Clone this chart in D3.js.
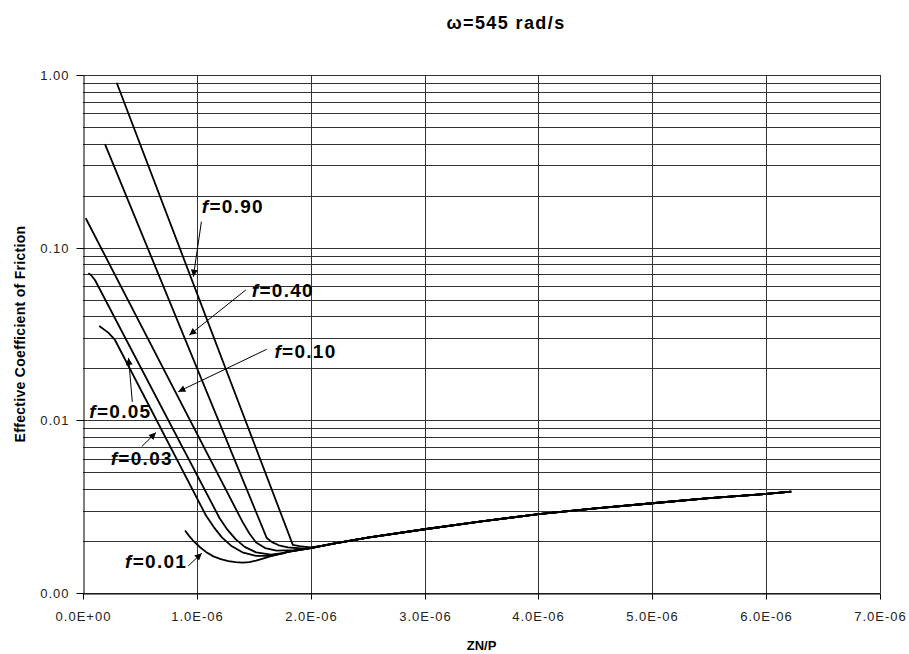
<!DOCTYPE html>
<html>
<head>
<meta charset="utf-8">
<script src="https://cdn.jsdelivr.net/npm/d3@7"></script>
<style>
  body { margin: 0; background: #fff; }
  text { font-family: "Liberation Sans", Arial, sans-serif; }
  .tick-label { font-size: 13px; fill: #222; letter-spacing: 1px; }
  .axis-title { font-size: 13px; font-weight: bold; fill: #000; }
  .curve-label { font-size: 19px; font-weight: bold; fill: #000; letter-spacing: 1.3px; }
</style>
</head>
<body>
<div id="chart"></div>
<script>
// chart values (ZN/P in absolute units, mu = effective coefficient of friction)
const curveNames = ["f=0.90", "f=0.40", "f=0.10", "f=0.05", "f=0.03", "f=0.01"];

const znp_090 = [0.296e-6, 1.843e-6, 1.90e-6, 2.0e-6, 2.1e-6];
const mu_090  = [0.902, 0.00190, 0.00187, 0.00184, 0.00188];

const znp_040 = [0.193e-6, 1.614e-6, 1.66e-6, 1.72e-6, 1.80e-6, 1.92e-6];
const mu_040  = [0.398, 0.00208, 0.00197, 0.00189, 0.00184, 0.00181];

const znp_010 = [0.024e-6, 1.40e-6, 1.46e-6, 1.52e-6, 1.60e-6, 1.70e-6, 1.85e-6];
const mu_010  = [0.148, 0.00259, 0.00222, 0.00196, 0.00182, 0.00176, 0.00177];

const znp_005 = [0.047e-6, 0.07e-6, 0.105e-6, 1.20e-6, 1.27e-6, 1.34e-6, 1.42e-6, 1.52e-6, 1.65e-6, 1.75e-6];
const mu_005  = [0.0711, 0.0695, 0.065, 0.00271, 0.00232, 0.00205, 0.00185, 0.00172, 0.00167, 0.00170];

const znp_003 = [0.143e-6, 0.222e-6, 0.281e-6, 1.08e-6, 1.15e-6, 1.22e-6, 1.30e-6, 1.40e-6, 1.52e-6, 1.65e-6, 1.75e-6];
const mu_003  = [0.0352, 0.0322, 0.0292, 0.00281, 0.00240, 0.00210, 0.00188, 0.00172, 0.00164, 0.00164, 0.00169];

const znp_001 = [0.896e-6, 0.93e-6, 0.97e-6, 1.028e-6, 1.08e-6, 1.145e-6, 1.21e-6, 1.277e-6, 1.34e-6, 1.40e-6, 1.46e-6, 1.52e-6, 1.58e-6, 1.643e-6, 1.72e-6];
const mu_001  = [0.00230, 0.00215, 0.00200, 0.00184, 0.00173, 0.00163, 0.00157, 0.00153, 0.00151, 0.00150, 0.00151, 0.00154, 0.00158, 0.00163, 0.00168];

// shared hydrodynamic branch that every curve runs into
const znp_hydro = [1.8e-6, 2.0e-6, 2.2e-6, 2.5e-6, 3.0e-6, 3.5e-6, 4.0e-6, 4.5e-6, 5.0e-6, 5.5e-6, 6.0e-6, 6.22e-6];
const mu_hydro  = [0.00173, 0.00182, 0.00193, 0.00209, 0.00234, 0.00260, 0.00286, 0.00309, 0.00331, 0.00354, 0.00375, 0.00386];

const xTicks = [0, 1e-6, 2e-6, 3e-6, 4e-6, 5e-6, 6e-6, 7e-6];
const yTicks = [0.001, 0.01, 0.1, 1];

// annotation anchors, in data units: text, arrow tail, arrow tip
const noteTextX = [1.043e-6, 1.482e-6, 1.681e-6, 0.055e-6, 0.243e-6, 0.369e-6];
const noteTextY = [0.158, 0.052, 0.0229, 0.0103, 0.00552, 0.00139];
const noteTailX = [1.04e-6, 1.43e-6, 1.614e-6, 0.433e-6, 0.516e-6, 0.925e-6];
const noteTailY = [0.1415, 0.0569, 0.0258, 0.0128, 0.00705, 0.001436];
const noteTipX  = [0.969e-6, 0.934e-6, 0.837e-6, 0.40e-6, 0.641e-6, 1.043e-6];
const noteTipY  = [0.0679, 0.0312, 0.01466, 0.0230, 0.00849, 0.00170];

// =============================
// Set up
// =============================
const width = 909, height = 654;
const margin = { left: 83, right: 29, top: 75, bottom: 61 };

const svg = d3.select("#chart").append("svg")
    .attr("width", width)
    .attr("height", height);

const xScale = d3.scaleLinear()
    .domain([0, 7e-6])
    .range([margin.left, width - margin.right]);

const yScale = d3.scaleLog()
    .domain([0.001, 1])
    .range([height - margin.bottom, margin.top]);

const snap = v => Math.round(v) + 0.5;

// =============================
// Grid
// =============================
svg.append("g")
  .selectAll("line")
  .data(yScale.ticks())
  .join("line")
    .attr("x1", xScale(0))
    .attr("x2", xScale(7e-6))
    .attr("y1", d => snap(yScale(d)))
    .attr("y2", d => snap(yScale(d)))
    .attr("stroke", "#333")
    .attr("stroke-width", 1);

svg.append("g")
  .selectAll("line")
  .data(xTicks.slice(1))
  .join("line")
    .attr("x1", d => snap(xScale(d)))
    .attr("x2", d => snap(xScale(d)))
    .attr("y1", yScale(1))
    .attr("y2", yScale(0.001))
    .attr("stroke", "#333")
    .attr("stroke-width", 1);

// =============================
// Axes
// =============================
const sciFormat = d => {
    if (d === 0) return "0.0E+00";
    const e = Math.floor(Math.log10(d) + 1e-9);
    const m = d / Math.pow(10, e);
    return m.toFixed(1) + "E" + (e < 0 ? "-" : "+") + String(Math.abs(e)).padStart(2, "0");
};

const bottomAxis = d3.axisBottom(xScale)
    .tickValues(xTicks)
    .tickFormat(sciFormat)
    .tickSizeInner(6)
    .tickSizeOuter(0)
    .tickPadding(12);

const gx = svg.append("g")
    .attr("transform", `translate(0,${snap(yScale(0.001))})`)
    .call(bottomAxis);

const leftAxis = d3.axisLeft(yScale)
    .tickValues(yTicks)
    .tickFormat(d3.format(".2f"))
    .tickSizeInner(7)
    .tickSizeOuter(0)
    .tickPadding(7);

const gy = svg.append("g")
    .attr("transform", `translate(${snap(xScale(0))},0)`)
    .call(leftAxis);

[gx, gy].forEach(g => {
    g.select(".domain").attr("stroke", "#000");
    g.selectAll(".tick line").attr("stroke", "#000");
    g.selectAll(".tick text")
        .attr("class", "tick-label")
        .attr("font-family", null)
        .attr("font-size", null);
});
gy.selectAll(".tick").attr("transform", d => `translate(0,${snap(yScale(d))})`);
gx.selectAll(".tick").attr("transform", d => `translate(${snap(xScale(d))},0)`);

svg.append("text")
    .attr("class", "axis-title")
    .attr("x", (xScale(0) + xScale(7e-6)) / 2)
    .attr("y", 650)
    .attr("text-anchor", "middle")
    .text("ZN/P");

svg.append("text")
    .attr("class", "axis-title")
    .attr("transform", `translate(25,${(yScale(1) + yScale(0.001)) / 2}) rotate(-90)`)
    .attr("text-anchor", "middle")
    .style("font-size", "14px")
    .style("letter-spacing", "0.3px")
    .text("Effective Coefficient of Friction");

svg.append("text")
    .attr("x", 506)
    .attr("y", 29)
    .attr("text-anchor", "middle")
    .style("font-size", "18px")
    .style("font-weight", "bold")
    .style("letter-spacing", "1.4px")
    .text("\u03c9=545 rad/s");

// =============================
// Curves
// =============================
const seriesX = [znp_090, znp_040, znp_010, znp_005, znp_003, znp_001];
const seriesY = [mu_090, mu_040, mu_010, mu_005, mu_003, mu_001];

const series = seriesX.map((xs, i) => {
    const pts = xs.map((x, j) => ({ x, y: seriesY[i][j] }));
    const last = xs[xs.length - 1];
    znp_hydro.forEach((x, j) => { if (x > last + 1e-9) pts.push({ x, y: mu_hydro[j] }); });
    return pts;
});

const line = d3.line()
    .x(d => xScale(d.x))
    .y(d => yScale(d.y));

svg.append("g")
  .selectAll("path")
  .data(series)
  .join("path")
    .attr("d", line)
    .attr("fill", "none")
    .attr("stroke", "#000")
    .attr("stroke-width", 1.8)
    .attr("stroke-linejoin", "round");

// =============================
// Annotations
// =============================
svg.append("defs").append("marker")
    .attr("id", "arrow")
    .attr("viewBox", "0 0 10 10")
    .attr("refX", 10)
    .attr("refY", 5)
    .attr("markerWidth", 9)
    .attr("markerHeight", 7)
    .attr("markerUnits", "userSpaceOnUse")
    .attr("orient", "auto")
  .append("path")
    .attr("d", "M0,0 L10,5 L0,10 z")
    .attr("fill", "#000");

const notes = curveNames.map((name, i) => ({
    name,
    tx: noteTextX[i], ty: noteTextY[i],
    ax: noteTailX[i], ay: noteTailY[i],
    bx: noteTipX[i], by: noteTipY[i]
}));

svg.append("g")
  .selectAll("line")
  .data(notes)
  .join("line")
    .attr("x1", d => xScale(d.ax))
    .attr("y1", d => yScale(d.ay))
    .attr("x2", d => xScale(d.bx))
    .attr("y2", d => yScale(d.by))
    .attr("stroke", "#000")
    .attr("stroke-width", 1)
    .attr("marker-end", "url(#arrow)");

const labels = svg.append("g")
  .selectAll("text")
  .data(notes)
  .join("text")
    .attr("class", "curve-label")
    .attr("x", d => xScale(d.tx))
    .attr("y", d => yScale(d.ty));

labels.append("tspan").style("font-style", "italic").text("f");
labels.append("tspan").text(d => d.name.slice(1));
</script>
</body>
</html>
